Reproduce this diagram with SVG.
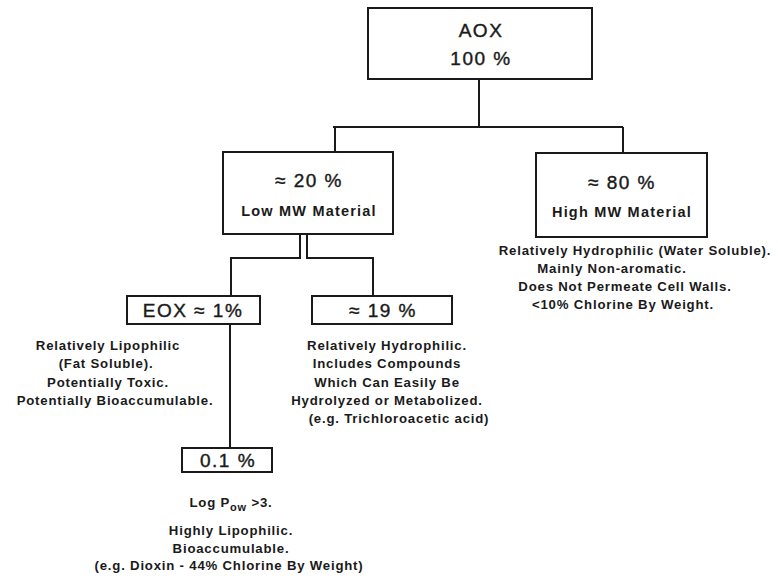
<svg xmlns="http://www.w3.org/2000/svg" width="778" height="578" viewBox="0 0 778 578">
<style>
.box{fill:#fff;stroke:#1a1a1a;stroke-width:2}
.con{fill:none;stroke:#1a1a1a;stroke-width:2}
.big{font-family:"Liberation Sans",Arial,sans-serif;font-size:19px;letter-spacing:1.5px;fill:#1a1a1a;stroke:#1a1a1a;stroke-width:0.4;text-anchor:middle}
.mid{font-family:"Liberation Sans",Arial,sans-serif;font-size:14.5px;letter-spacing:1.2px;font-weight:bold;fill:#1a1a1a;text-anchor:middle}
.sm{font-family:"Liberation Sans",Arial,sans-serif;font-size:13.2px;letter-spacing:0.8px;font-weight:bold;fill:#1a1a1a;text-anchor:middle}
</style>
<rect width="778" height="578" fill="#fff"/>
<g id="connectors">
<path class="con" d="M479 79V127M333 127H623M335 127V152M623 127V153"/>
<path class="con" d="M300 234V258H231V296M307 234V258H373V296"/>
<path class="con" d="M230 324V448"/>
</g>
<g id="aox">
<rect class="box" x="368" y="8" width="224" height="71"/>
<text class="big" x="481" y="37">AOX</text>
<text class="big" x="481" y="65">100 %</text>
</g>
<g id="low">
<rect class="box" x="223" y="152" width="170" height="82"/>
<text class="big" x="309" y="187">≈ 20 %</text>
<text class="mid" x="309" y="216">Low MW Material</text>
</g>
<g id="high">
<rect class="box" x="536" y="153" width="171" height="84"/>
<text class="big" x="622" y="189">≈ 80 %</text>
<text class="mid" x="622" y="217">High MW Material</text>
<text class="sm" x="635" y="255">Relatively Hydrophilic (Water Soluble).</text>
<text class="sm" x="612" y="273">Mainly Non-aromatic.</text>
<text class="sm" x="625" y="291">Does Not Permeate Cell Walls.</text>
<text class="sm" x="623" y="309">&lt;10% Chlorine By Weight.</text>
</g>
<g id="eox">
<rect class="box" x="127" y="296" width="133" height="28"/>
<text class="big" x="193" y="317">EOX ≈ 1%</text>
<text class="sm" x="108" y="350">Relatively Lipophilic</text>
<text class="sm" x="106" y="368">(Fat Soluble).</text>
<text class="sm" x="108" y="387">Potentially Toxic.</text>
<text class="sm" x="115" y="405">Potentially Bioaccumulable.</text>
</g>
<g id="p19">
<rect class="box" x="312" y="296" width="140" height="28"/>
<text class="big" x="383" y="317">≈ 19 %</text>
<text class="sm" x="387" y="350">Relatively Hydrophilic.</text>
<text class="sm" x="387" y="368">Includes Compounds</text>
<text class="sm" x="387" y="387">Which Can Easily Be</text>
<text class="sm" x="387" y="405">Hydrolyzed or Metabolized.</text>
<text class="sm" x="399" y="423">(e.g. Trichloroacetic acid)</text>
</g>
<g id="p01">
<rect class="box" x="182" y="448" width="90" height="24"/>
<text class="big" x="228" y="467">0.1 %</text>
<text class="sm" x="231" y="507">Log P<tspan font-size="11" dy="4">ow</tspan><tspan dy="-4"> &gt;3.</tspan></text>
<text class="sm" x="231" y="535">Highly Lipophilic.</text>
<text class="sm" x="231" y="553">Bioaccumulable.</text>
<text class="sm" x="229" y="570">(e.g. Dioxin - 44% Chlorine By Weight)</text>
</g>
</svg>
